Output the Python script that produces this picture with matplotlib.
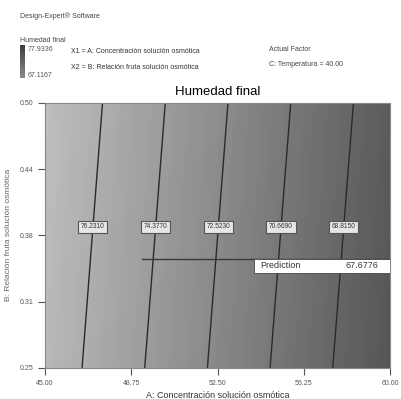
import numpy as np
import matplotlib.pyplot as plt
from matplotlib.colors import LinearSegmentedColormap
from matplotlib.patches import Rectangle

plt.rcParams['font.family'] = ['Liberation Sans', 'DejaVu Sans']

# response at the corners of the design space
conc = [45.0, 60.0]          # A: Concentracion solucion osmotica
rel = [0.25, 0.50]           # B: Relacion fruta solucion osmotica
humedad = [[77.3300, 67.1167],   # B = 0.25
           [77.9336, 67.7300]]   # B = 0.50
levels = [68.8150, 70.6690, 72.5230, 74.3770, 76.2310]
label_b = 0.383

xticks = [45.00, 48.75, 52.50, 56.25, 60.00]
xticklabels = ['45.00', '48.75', '52.50', '56.25', '60.00']
yticks = [0.25, 0.3125, 0.375, 0.4375, 0.50]
yticklabels = ['0.25', '0.31', '0.38', '0.44', '0.50']
prediction = 67.6776
temperatura = '40.00'

A, B = np.meshgrid(conc, rel)
Z = np.array(humedad)
zmin, zmax = Z.min(), Z.max()

gray = LinearSegmentedColormap.from_list('g', ['#555555', '#8a8a8a', '#bebebe'])

fig = plt.figure(figsize=(4.01, 3.99), dpi=100)
ax = fig.add_axes([0.112, 0.078, 0.861, 0.664])

ax.contourf(A, B, Z, levels=np.linspace(zmin, zmax, 80), cmap=gray)
cs = ax.contour(A, B, Z, levels=levels, colors='#2a2a2a', linewidths=1.0)

# put the labels where each contour crosses B = label_b
pos = []
for p in cs.get_paths():
    v = p.vertices
    if len(v) == 0:
        continue
    order = np.argsort(v[:, 1])
    pos.append((np.interp(label_b, v[order, 1], v[order, 0]), label_b))
lbls = ax.clabel(cs, fmt='%.4f', fontsize=4.8, inline=False, manual=pos, colors='#333333')
for t in lbls:
    t.set_rotation(0)
    t.set_bbox(dict(boxstyle='square,pad=0.4', fc='#e6e6e6', ec='#555555', lw=0.8))

# prediction flag
ax.plot([49.2, 60], [0.3528, 0.3528], color='#3a3a3a', lw=1.0)
ax.add_patch(Rectangle((0.605, 0.358), 0.395, 0.053, transform=ax.transAxes,
                       fc='white', ec='#444444', lw=0.6, zorder=5))
ax.text(0.625, 0.385, 'Prediction', transform=ax.transAxes, fontsize=6.5,
        va='center', color='#333333', zorder=6)
ax.text(0.87, 0.385, f'{prediction:.4f}', transform=ax.transAxes, fontsize=6.5,
        va='center', color='#333333', zorder=6)

ax.set_xlim(conc)
ax.set_ylim(rel)
ax.set_xticks(xticks)
ax.set_xticklabels(xticklabels)
ax.set_yticks(yticks)
ax.set_yticklabels(yticklabels)
ax.tick_params(labelsize=5, colors='#555555', length=5, width=0.8)
for s in ax.spines.values():
    s.set_color('#888888')
    s.set_linewidth(0.8)
ax.set_xlabel('A: Concentración solución osmótica', fontsize=6.5, color='#333333', labelpad=3)
ax.set_ylabel('B: Relación fruta solución osmótica', fontsize=6, color='#666666', labelpad=5)
ax.set_title('Humedad final', fontsize=9.5, pad=6, x=0.5)

# header
fig.text(0.05, 0.955, 'Design-Expert® Software', fontsize=5, color='#444444')
fig.text(0.05, 0.895, 'Humedad final', fontsize=5, color='#444444')
cax = fig.add_axes([0.05, 0.805, 0.012, 0.083])
cax.imshow(np.linspace(zmax, zmin, 50).reshape(-1, 1), cmap=LinearSegmentedColormap.from_list('c', ['#8a8a8a', '#3c3c3c']),
           aspect='auto')
cax.set_axis_off()
fig.text(0.068, 0.872, f'{zmax:.4f}', fontsize=5, color='#555555')
fig.text(0.068, 0.808, f'{zmin:.4f}', fontsize=5, color='#555555')
fig.text(0.178, 0.866, 'X1 = A: Concentración solución osmótica', fontsize=5, color='#333333')
fig.text(0.178, 0.826, 'X2 = B: Relación fruta solución osmótica', fontsize=5, color='#333333')
fig.text(0.672, 0.872, 'Actual Factor', fontsize=5, color='#444444')
fig.text(0.672, 0.834, f'C: Temperatura = {temperatura}', fontsize=5, color='#444444')

fig.savefig('out.png', dpi=100)
